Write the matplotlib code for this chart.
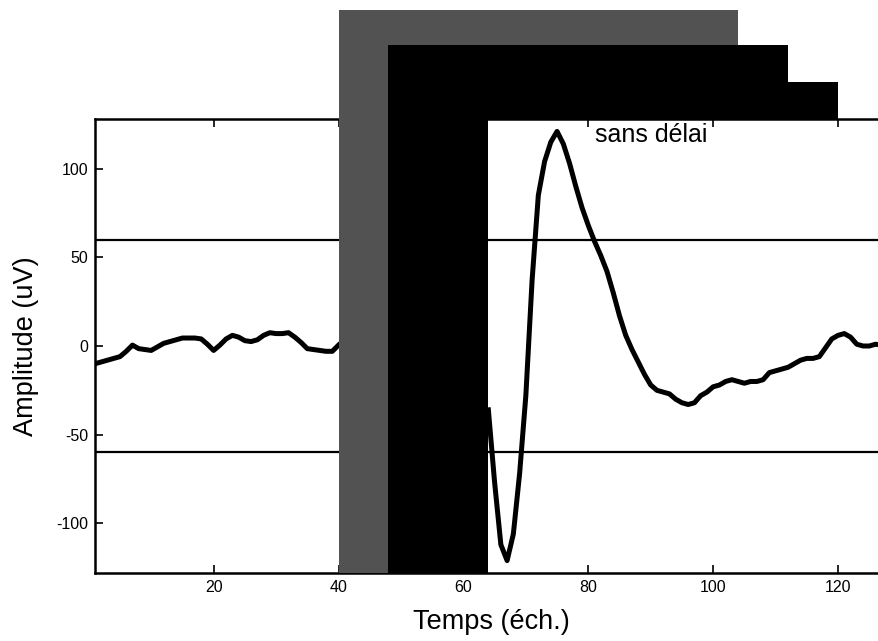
import numpy as np
import matplotlib
matplotlib.use("Agg")
import matplotlib.pyplot as plt
from matplotlib.patches import Polygon

plt.rcParams['font.family'] = ['Liberation Sans', 'DejaVu Sans']
plt.rcParams['axes.unicode_minus'] = False

# signal before the window (samples 1..40)
x_pre = list(range(1, 41))
y_pre = [-10, -9, -8, -7, -6, -3, 0.5, -1.5, -2, -2.5, -0.5, 1.5, 2.5, 3.5, 4.5, 4.5,
         4.5, 4, 1, -2.5, 0.5, 4, 6, 5, 3, 2.5, 3.5, 6, 7.5, 7, 7, 7.5, 5, 2, -1.5,
         -2, -2.5, -3, -3, 0.5]
# signal after the window (samples 64..127)
x_post = list(range(64, 128))
y_post = [-36, -77, -112, -121, -106, -72, -28, 37, 85, 104, 115, 121, 114, 103, 90,
          78, 68, 59, 51, 42, 30, 17, 6, -2, -9, -16, -22, -25, -26, -27, -30, -32,
          -33, -32, -28, -26, -23, -22, -20, -19, -20, -21, -20, -20, -19, -15, -14,
          -13, -12, -10, -8, -7, -7, -6, -1, 4, 6, 7, 5, 1, 0, 0, 1, 0.5]

thresholds = [60, -60]
x_ticks = [20, 40, 60, 80, 100, 120]
y_ticks = [-100, -50, 0, 50, 100]
xlim = (1, 128)
ylim = (-128, 128)

# analysis windows (start, end, top) drawn over the plot
win_gray = (40, 104, 189.5, 48)
win_b1 = (48, 112, 169.8, 64)
win_b2 = (56, 120, 148.9)

fig = plt.figure(figsize=(8.79, 6.41), dpi=100)
ax = fig.add_axes([95/879, 1-573/641, (888-95)/879, (573-119)/641])
ax.set_xlim(*xlim)
ax.set_ylim(*ylim)

for t in thresholds:
    ax.plot([xlim[0], 40], [t, t], color='black', lw=1.6, zorder=1)
    ax.plot([64, xlim[1]], [t, t], color='black', lw=1.6, zorder=1)

ax.plot(x_pre, y_pre, color='black', lw=3.6, solid_joinstyle='round', zorder=2)
ax.plot(x_post, y_post, color='black', lw=3.6, solid_joinstyle='round', zorder=2)

b, t = ylim
g0, g1, gt, gw = win_gray
ax.add_patch(Polygon([(g0, b), (g0, gt), (g1, gt), (g1, t), (gw, t), (gw, b)],
                     closed=True, facecolor='#525252', edgecolor='none',
                     clip_on=False, zorder=5))
b0, b1, bt, bw = win_b1
ax.add_patch(Polygon([(b0, b), (b0, bt), (b1, bt), (b1, t), (bw, t), (bw, b)],
                     closed=True, facecolor='black', edgecolor='none',
                     clip_on=False, zorder=6))
c0, c1, ct = win_b2
ax.add_patch(Polygon([(c0, t), (c0, ct), (c1, ct), (c1, t)],
                     closed=True, facecolor='black', edgecolor='none',
                     clip_on=False, zorder=7))

ax.text(90.0, 119.0, 'sans délai', fontsize=18, ha='center', va='center', zorder=8)

ax.set_xticks(x_ticks)
ax.set_yticks(y_ticks)
ax.tick_params(direction='in', length=6, width=1.2, labelsize=11.5, top=True,
               right=False, pad=5)
for s in ax.spines.values():
    s.set_linewidth(1.8)

ax.set_xlabel('Temps (éch.)', fontsize=19.5, labelpad=10)
ax.set_ylabel('Amplitude (uV)', fontsize=19.5, labelpad=12)

fig.savefig('out.png', dpi=100)
